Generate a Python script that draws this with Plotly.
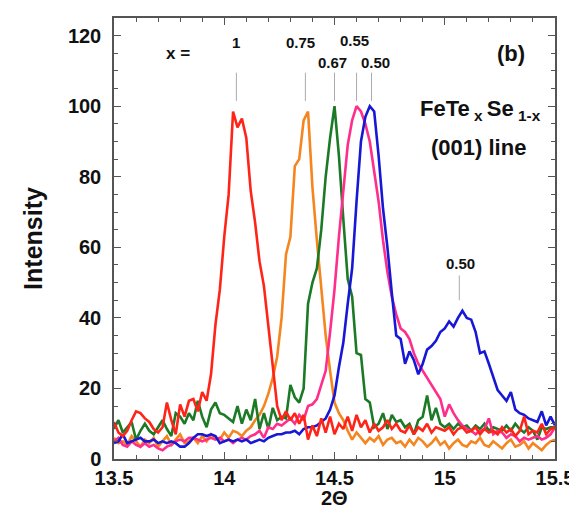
import numpy as np
import plotly.graph_objects as go

two_theta = [round(13.5 + 0.02 * i, 2) for i in range(101)]

red_x1 = [10.5, 7.5, 6.5, 8, 11, 13.5, 13, 11.5, 10.5, 8.5, 7.5, 9, 16, 11, 7, 15.5, 12, 16.5, 17, 13.5,
          19, 16.5, 24, 38, 48, 63, 75, 98.5, 94, 96.5, 91, 76, 67, 56, 49, 37, 27, 15, 11, 13.5,
          11, 13, 10, 12.5, 5.5, 9.5, 6.5, 11.5, 7.5, 12, 7, 10, 8.5, 12, 8, 12.5, 9, 11, 7.5, 10,
          8, 9, 11, 8.5, 10, 8, 7.5, 9.5, 7, 9, 8, 10, 7.5, 9, 8.5, 8, 9, 7, 8.5, 9,
          7.5, 8, 9, 7, 8.5, 7.5, 8, 7, 9, 7.5, 8.5, 6.5, 8, 12, 7, 8, 7.5, 10, 7, 8.5, 9]

orange_x075 = [6, 4.5, 5, 4, 6.5, 5, 3.5, 5.5, 4.5, 6, 3.5, 5, 6.5, 4, 5.5, 7, 4.5, 5, 6, 4.5,
               6.5, 5, 7, 6, 5.5, 7.5, 6, 8, 7.5, 6.5, 8, 9, 11, 12.5, 15, 18.5, 23, 29, 40, 58,
               63, 83, 85, 96, 98.5, 77, 62, 48, 35, 25, 16, 13, 11, 8, 5.5, 7.5, 6, 4.5, 6, 5,
               6.5, 4, 5.5, 6, 4.5, 5, 3.5, 5.5, 4, 6, 5, 3.5, 4.5, 6, 4, 5, 3, 4.5, 5.5, 4,
               3.5, 5, 4.5, 6, 4, 3.5, 5, 4, 3, 4.5, 5.5, 3.5, 4, 5, 3, 4.5, 3.5, 2.5, 4, 5, 5.5]

green_x067 = [8.5, 11, 7.5, 9, 10.5, 5.5, 8, 10, 8, 7, 9, 11, 8.5, 6.5, 13, 12, 10, 13, 11, 16.5,
              12, 9, 14, 16, 13, 12.5, 11.5, 10.5, 15, 10, 14, 11, 17, 8.5, 13, 8.5, 14.5, 11, 12, 11.5,
              21, 17.5, 16, 20, 44, 50, 54, 65, 80, 91, 100, 86, 68, 51, 46, 30, 29.5, 17, 16, 9,
              10, 13, 8.5, 12.5, 10.5, 11, 9, 10, 7, 11, 12, 18, 11, 14.5, 10, 9, 10, 8.5, 10, 9,
              9.5, 8, 9.5, 8.5, 10, 8, 9, 8.5, 8, 9.5, 8, 10, 8.5, 7.5, 9, 8, 5.5, 9, 8.5, 9, 9]

pink_x055 = [5, 6, 4, 3.5, 5, 4, 3.5, 4.5, 3.5, 4, 3, 2.5, 3.5, 4, 5, 5.5, 5, 6, 6, 5.5,
             5, 5.5, 6, 5.5, 6, 5, 5.5, 4.5, 5.5, 6, 5.5, 6.5, 7, 8, 6, 9, 8.5, 10, 9.5, 10.5,
             11.5, 10, 12.5, 11, 15, 15.5, 17, 21, 25, 36, 48, 63, 76, 89, 96, 100, 98.5, 95, 90, 82,
             73, 62, 53, 46, 41, 37, 36, 34, 30, 27, 25, 23, 21, 19, 17, 12, 15.5, 13, 11, 9.5,
             8.5, 8, 7, 8, 8.5, 11.5, 7, 8, 7.5, 6, 7, 6.5, 5, 6, 5.5, 6, 6.5, 5.5, 6, 7, 9]

blue_x050 = [4.5, 5, 7, 4.5, 5, 5.5, 6, 5, 5, 5.5, 4.5, 5, 4.5, 5, 4.5, 3.5, 3.5, 4.5, 6, 7,
             7, 6.5, 7, 6.5, 4.5, 5, 5.5, 5, 5.5, 5, 5.5, 4.5, 5, 5.5, 5, 6, 6.5, 7, 7, 7.5,
             7.5, 8, 7, 8.5, 9, 9, 9.5, 10.5, 11.5, 14, 18, 26, 33, 44, 54, 73, 90, 97, 100, 98.5,
             86, 71, 60, 47, 35, 34, 27, 30.5, 28, 24, 27, 31, 32, 33.5, 36, 37, 39, 37.5, 40, 42,
             40, 39.5, 36, 30, 30.5, 27, 23.5, 19.5, 18, 16.5, 19, 14, 13, 12.5, 11.5, 11, 10.5, 13.5, 9.5, 12, 9.5]

series = [
    ("x = 0.75", orange_x075, "#f5851f"),
    ("x = 0.67", green_x067, "#1c7a26"),
    ("x = 0.55", pink_x055, "#ff2e8a"),
    ("x = 0.50", blue_x050, "#1717d6"),
    ("x = 1", red_x1, "#ff2418"),
]

fig = go.Figure()
for name, ys, col in series:
    fig.add_trace(go.Scatter(x=two_theta, y=ys, mode="lines", name=name,
                             line=dict(color=col, width=2.6), showlegend=False))

peak_marks = [14.055, 14.368, 14.5, 14.6, 14.668]
for xm in peak_marks:
    fig.add_shape(type="line", x0=xm, x1=xm, y0=109.5, y1=101.5, xref="x", yref="y",
                  line=dict(color="#aaaaaa", width=1))
fig.add_shape(type="line", x0=15.066, x1=15.066, y0=52, y1=45, xref="x", yref="y",
              line=dict(color="#aaaaaa", width=1))

font_fam = "Liberation Sans"
ink = "#111111"
small = dict(family=font_fam, size=15, color=ink, weight="bold")
big = dict(family=font_fam, size=22, color=ink, weight="bold")
labels = [
    ("x =", 13.79, 115, dict(family=font_fam, size=17, color=ink, weight="bold")),
    ("1", 14.054, 118, small),
    ("0.75", 14.347, 118, small),
    ("0.55", 14.59, 118.5, small),
    ("0.67", 14.49, 112.5, small),
    ("0.50", 14.685, 112.5, small),
    ("0.50", 15.07, 55.4, small),
    ("(b)", 15.30, 115, big),
    ("FeTe<sub> x </sub>Se<sub> 1-x</sub>", 15.16, 99, big),
    ("(001) line", 15.155, 88.4, big),
]
for txt, xa, ya, f in labels:
    fig.add_annotation(x=xa, y=ya, text=txt, showarrow=False, font=f, xref="x", yref="y")

fig.add_annotation(x=0.5, y=-0.089, xref="paper", yref="paper", text="2Θ", showarrow=False,
                   yanchor="middle", borderpad=0,
                   font=dict(family=font_fam, size=20, color=ink, weight="bold"))

axis_common = dict(
    showline=True, linecolor="#555", linewidth=1.5, mirror="allticks",
    ticks="inside", ticklen=7, tickwidth=1, tickcolor="#555",
    showgrid=False, zeroline=False,
    tickfont=dict(family=font_fam, size=20, color=ink, weight="bold"),
)
fig.update_xaxes(range=[13.5, 15.5], tickvals=[13.5, 14, 14.5, 15, 15.5],
                 ticktext=["13.5", "14", "14.5", "15", "15.5"],
                 minor=dict(dtick=0.1, ticks="inside", ticklen=4, tickcolor="#555", showgrid=False),
                 **axis_common)
fig.update_yaxes(range=[0, 125], tickvals=[0, 20, 40, 60, 80, 100, 120],
                 minor=dict(dtick=5, ticks="inside", ticklen=4, tickcolor="#555", showgrid=False),
                 title=dict(text="Intensity", font=dict(family=font_fam, size=25, color=ink, weight="bold"), standoff=18),
                 ticklabelstandoff=7,
                 **axis_common)

fig.update_layout(width=577, height=510, margin=dict(l=106, r=30, t=8, b=59),
                  plot_bgcolor="white", paper_bgcolor="white")

fig.write_html("out.html")
